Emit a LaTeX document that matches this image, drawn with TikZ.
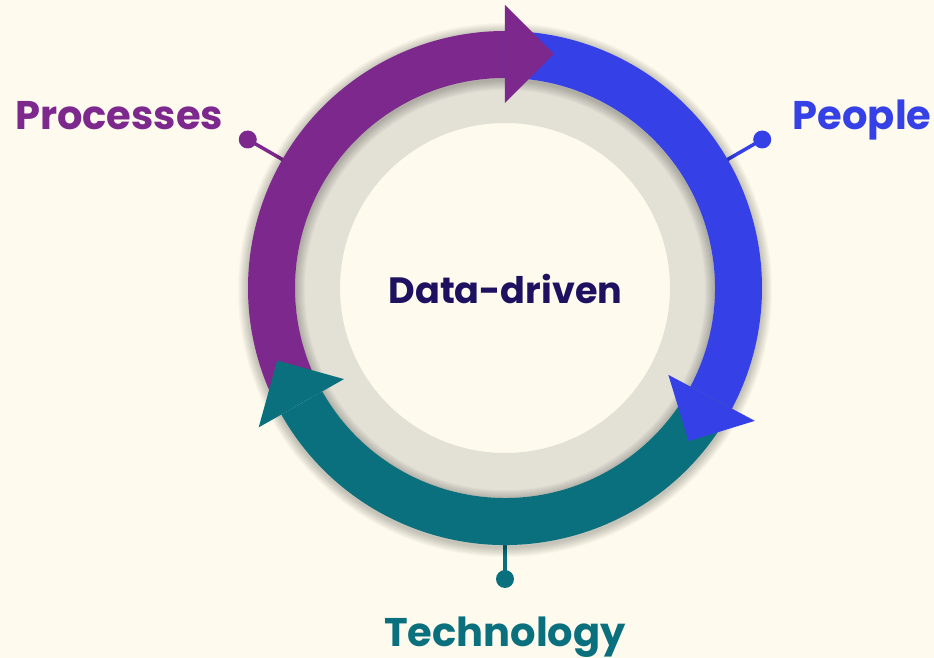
\documentclass[tikz,border=0pt]{standalone}
\usepackage{fontspec}
\newfontfamily\popfont{Poppins}
\usetikzlibrary{calc}
\definecolor{bg}{HTML}{FEFBEE}
\definecolor{procc}{HTML}{7D288C}
\definecolor{peoc}{HTML}{3540E6}
\definecolor{techc}{HTML}{0B707E}
\definecolor{navy}{HTML}{1E1160}
\definecolor{ringc}{HTML}{E3E0D5}

% one curved arrow of the cycle: body from #2 to #3 (clockwise)
\newcommand{\cyclebody}[3]{%
  \fill[#1] (#2:257) arc[start angle=#2, end angle=#3, radius=257]
    -- (#3:210) arc[start angle=#3, end angle=#2, radius=210] -- cycle;}
% its triangular head, base at angle #2
\newcommand{\cyclehead}[2]{%
  \pgfmathsetmacro{\tang}{#2-90}%
  \fill[#1] (#2:283) -- ($(#2:234)+(\tang:49)$) -- (#2:185) -- cycle;}

\begin{document}
\begin{tikzpicture}[x=1pt,y=1pt,
  lbl/.style={font=\popfont\bfseries\fontsize{40}{40}\selectfont, inner sep=0pt},
  pindot/.style={circle, fill=#1, minimum size=18pt, inner sep=0pt},
  pinline/.style={draw=#1, line width=3.5pt},
]
\fill[bg] (-505,-370) rectangle (429,288);
\useasboundingbox (-505,-370) rectangle (429,288);

% inner beige ring
\fill[ringc, even odd rule] (0,0) circle (210) circle (165);

% pins to the labels
\coordinate (procA) at (150:250);
\node[pindot=procc] (procB) at (150:297) {};
\draw[pinline=procc] (procA) -- (procB.center);
\coordinate (peoA) at (30:250);
\node[pindot=peoc] (peoB) at (30:297) {};
\draw[pinline=peoc] (peoA) -- (peoB.center);
\coordinate (techA) at (-90:250);
\node[pindot=techc] (techB) at (-90:291) {};
\draw[pinline=techc] (techA) -- (techB.center);

% soft shadow of the arrow band
\foreach \i in {1,...,10} {
  \draw[black, opacity=0.022, line width=2*\i] (0,-2) circle (257);
  \draw[black, opacity=0.022, line width=2*\i] (0,-2) circle (210);
}

% arrow bodies
\cyclebody{procc}{205}{90}
\cyclebody{peoc}{90}{-28}
\cyclebody{techc}{-28}{-150.5}
% arrow heads
\cyclehead{procc}{90}
\cyclehead{peoc}{-28}
\cyclehead{techc}{-150.5}

% labels
\node[lbl, text=procc, anchor=base west] (proc) at (-490,158) {Processes};
\node[lbl, text=peoc, anchor=base west] (peo) at (287.7,158) {People};
\node[lbl, text=navy, anchor=base, font=\popfont\bfseries\fontsize{36.6}{36.6}\selectfont] (dd) at (0.5,-15.3) {Data-driven};
\node[lbl, text=techc, anchor=base] (tech) at (0,-358) {Technology};
\end{tikzpicture}
\end{document}
